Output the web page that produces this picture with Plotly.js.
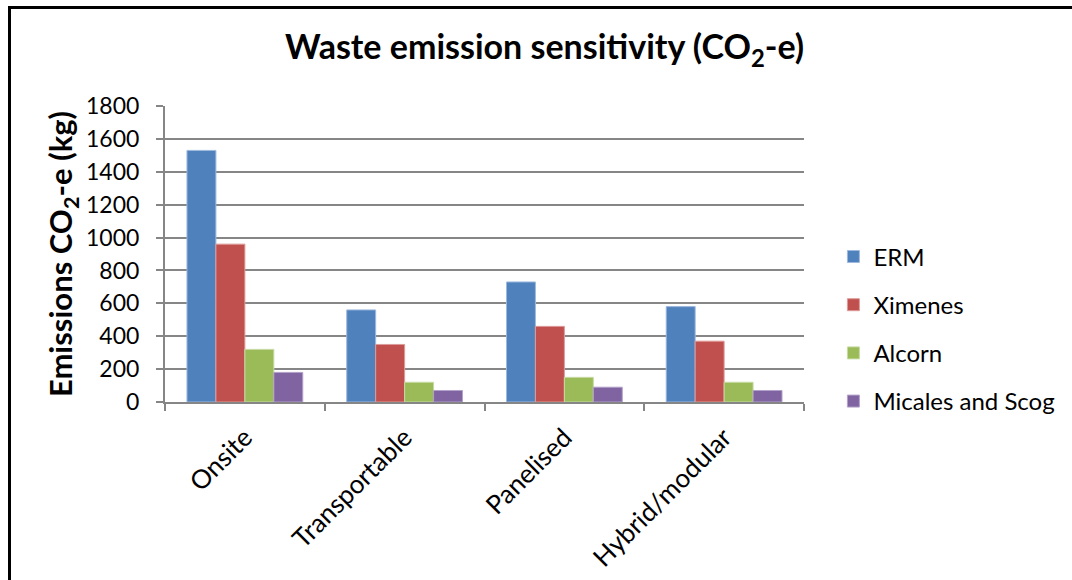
<!DOCTYPE html>
<html>
<head>
<meta charset="utf-8">
<script src="https://cdn.plot.ly/plotly-3.0.1.min.js"></script>
<style>
  html, body { margin: 0; padding: 0; background: #fff; }
  #wrap { position: relative; width: 1072px; height: 580px; overflow: hidden; }
  #chart { width: 1072px; height: 580px; }
  #frame { position: absolute; left: 8px; top: 6px; width: 1080px; height: 600px;
           border-left: 3px solid #000; border-top: 3px solid #000; pointer-events: none; }
</style>
</head>
<body>
<div id="wrap">
  <div id="chart"></div>
  <div id="frame"></div>
</div>
<script>
const categories = ["Onsite", "Transportable", "Panelised", "Hybrid/modular"];
const seriesNames = ["ERM", "Ximenes", "Alcorn", "Micales and Scog"];
const erm = [1530, 560, 730, 580];
const ximenes = [960, 350, 460, 370];
const alcorn = [320, 120, 150, 120];
const micales = [180, 70, 90, 70];
const colors = ["#4F81BD", "#C0504D", "#9BBB59", "#8064A2"];
const lineColors = ["#9DB9DD", "#DE9B99", "#C6DAA3", "#B3A2C9"];
const values = [erm, ximenes, alcorn, micales];
const yTicks = [0, 200, 400, 600, 800, 1000, 1200, 1400, 1600, 1800];

const FONT = "Lato, 'Open Sans', 'DejaVu Sans', sans-serif";

const traces = seriesNames.map((name, i) => ({
  type: "bar",
  name: name,
  x: categories,
  y: values[i],
  legendgroup: "g" + i,
  marker: { color: colors[i], line: { color: lineColors[i], width: 1 } },
  hoverinfo: "x+y+name"
}));

const layout = {
  width: 1072,
  height: 580,
  paper_bgcolor: "#fff",
  plot_bgcolor: "#fff",
  margin: { l: 165, r: 266, t: 106, b: 178, pad: 0 },
  font: { family: FONT, color: "#000", size: 23 },
  title: {
    text: "<b>Waste emission sensitivity (CO<sub>2</sub>-e)</b>",
    font: { family: FONT, size: 34, color: "#000" },
    xref: "container", x: 0.508, xanchor: "center",
    yref: "container", y: 0.918, yanchor: "middle"
  },
  barmode: "group",
  bargap: 0.275,
  bargroupgap: 0,
  xaxis: {
    type: "category",
    tickangle: -45,
    tickfont: { family: FONT, size: 26, color: "#000" },
    showline: true, linecolor: "#868686", linewidth: 2,
    ticks: "outside", tickson: "boundaries", ticklen: 7, tickcolor: "#868686", tickwidth: 2,
    ticklabelstandoff: 8,
    showgrid: false,
    zeroline: false
  },
  yaxis: {
    range: [0, 1800],
    tickvals: yTicks,
    ticktext: yTicks.map(String),
    tickfont: { family: FONT, size: 23, color: "#000" },
    showline: true, linecolor: "#868686", linewidth: 2,
    ticks: "outside", ticklen: 7, tickcolor: "#868686", tickwidth: 2,
    showgrid: true, gridcolor: "#868686", gridwidth: 2,
    zeroline: false,
    ticklabelstandoff: 12,
    title: {
      text: "<b>Emissions CO<sub>2</sub>-e (kg)</b>",
      font: { family: FONT, size: 31, color: "#000" },
      standoff: 4
    }
  },
  legend: {
    x: 1.046, xanchor: "left",
    y: 0.247, yanchor: "middle",
    font: { family: FONT, size: 24, color: "#000" },
    tracegroupgap: 14,
    itemwidth: 30,
    bgcolor: "rgba(0,0,0,0)"
  },
  showlegend: true
};

Plotly.newPlot("chart", traces, layout, { displayModeBar: false, staticPlot: true });
</script>
</body>
</html>
